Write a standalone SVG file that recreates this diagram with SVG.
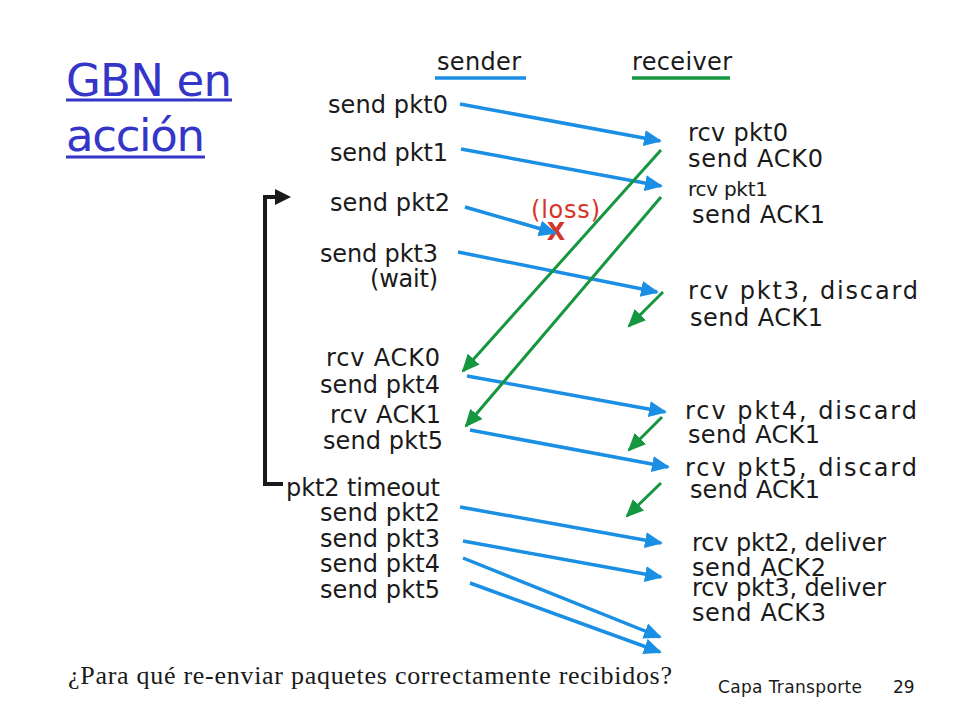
<svg xmlns="http://www.w3.org/2000/svg" width="960" height="720" viewBox="0 0 960 720">
<defs>
<style>
.t{font-family:"DejaVu Sans","Liberation Sans",sans-serif;font-size:24px;fill:#1a1a1a}
.b{stroke:#1a8fe3;stroke-width:3.5;fill:none}
.g{stroke:#15963f;stroke-width:3;fill:none}
.title{font-family:"DejaVu Sans","Liberation Sans",sans-serif;font-size:45px;fill:#3535c8}
</style>
<marker id="ab" markerUnits="userSpaceOnUse" markerWidth="20" markerHeight="20" viewBox="0 0 20 20" refX="16" refY="10" orient="auto">
<path d="M0,2 L18,10 L0,18 Z" fill="#1a8fe3"/>
</marker>
<marker id="ag" markerUnits="userSpaceOnUse" markerWidth="20" markerHeight="20" viewBox="0 0 20 20" refX="16" refY="10" orient="auto">
<path d="M0,2 L18,10 L0,18 Z" fill="#15963f"/>
</marker>
<marker id="ak" markerUnits="userSpaceOnUse" markerWidth="20" markerHeight="20" viewBox="0 0 20 20" refX="4" refY="10" orient="auto">
<path d="M0,2 L16,10 L0,18 Z" fill="#1a1a1a"/>
</marker>
</defs>
<rect width="960" height="720" fill="#ffffff"/>

<g id="title">
<text class="title" x="66" y="96" textLength="166">GBN en</text>
<line x1="66" y1="100" x2="232" y2="100" stroke="#3535c8" stroke-width="3"/>
<text class="title" x="66" y="151" textLength="139">acción</text>
<line x1="66" y1="157" x2="205" y2="157" stroke="#3535c8" stroke-width="3"/>
</g>

<g id="headers">
<text class="t" x="437" y="70" textLength="84">sender</text>
<line x1="435" y1="78" x2="526" y2="78" stroke="#1a8fe3" stroke-width="3.5"/>
<text class="t" x="632" y="70" textLength="100">receiver</text>
<line x1="632" y1="78" x2="730" y2="78" stroke="#15963f" stroke-width="3.5"/>
</g>

<g id="sender-labels">
<text class="t" x="328" y="113" textLength="120">send pkt0</text>
<text class="t" x="330" y="161" textLength="118">send pkt1</text>
<text class="t" x="330" y="211" textLength="120">send pkt2</text>
<text class="t" x="320" y="262" textLength="118">send pkt3</text>
<text class="t" x="370" y="287" textLength="68">(wait)</text>
<text class="t" x="326" y="366" textLength="114">rcv ACK0</text>
<text class="t" x="320" y="393" textLength="120">send pkt4</text>
<text class="t" x="330" y="423" textLength="111">rcv ACK1</text>
<text class="t" x="323" y="449" textLength="120">send pkt5</text>
<text class="t" x="286" y="496" textLength="154">pkt2 timeout</text>
<text class="t" x="320" y="521" textLength="120">send pkt2</text>
<text class="t" x="320" y="547" textLength="120">send pkt3</text>
<text class="t" x="320" y="572" textLength="120">send pkt4</text>
<text class="t" x="320" y="598" textLength="120">send pkt5</text>
</g>

<g id="receiver-labels">
<text class="t" x="688" y="141" textLength="100">rcv pkt0</text>
<text class="t" x="688" y="167" textLength="135">send ACK0</text>
<text class="t" x="688" y="196" textLength="80" style="font-size:20px">rcv pkt1</text>
<text class="t" x="692" y="223" textLength="133">send ACK1</text>
<text class="t" x="688" y="299" textLength="230">rcv pkt3, discard</text>
<text class="t" x="690" y="326" textLength="133">send ACK1</text>
<text class="t" x="685" y="419" textLength="232">rcv pkt4, discard</text>
<text class="t" x="688" y="443" textLength="132">send ACK1</text>
<text class="t" x="685" y="476" textLength="232">rcv pkt5, discard</text>
<text class="t" x="690" y="498" textLength="130">send ACK1</text>
<text class="t" x="692" y="551" textLength="194">rcv pkt2, deliver</text>
<text class="t" x="692" y="576" textLength="134">send ACK2</text>
<text class="t" x="692" y="596" textLength="194">rcv pkt3, deliver</text>
<text class="t" x="692" y="621" textLength="134">send ACK3</text>
</g>

<g id="loss">
<text x="531" y="218" textLength="69" style="font-family:'DejaVu Sans','Liberation Sans',sans-serif;font-size:24px;fill:#d8352a">(loss)</text>
<text x="556" y="240" text-anchor="middle" style="font-family:'DejaVu Sans','Liberation Sans',sans-serif;font-size:24px;font-weight:bold;fill:#d8352a">X</text>
</g>

<g id="timeout-bracket">
<polyline points="283,484 265,484 265,197 279,197" fill="none" stroke="#1a1a1a" stroke-width="4" marker-end="url(#ak)"/>
</g>

<g id="connectors">
<line class="b" x1="460" y1="104" x2="660" y2="141" marker-end="url(#ab)"/>
<line class="b" x1="461" y1="149" x2="661" y2="186" marker-end="url(#ab)"/>
<line class="b" x1="465" y1="207" x2="555" y2="233" marker-end="url(#ab)"/>
<line class="b" x1="458" y1="252" x2="657" y2="292" marker-end="url(#ab)"/>
<line class="b" x1="467" y1="376" x2="665" y2="412" marker-end="url(#ab)"/>
<line class="b" x1="470" y1="430" x2="668" y2="467" marker-end="url(#ab)"/>
<line class="b" x1="460" y1="507" x2="661" y2="543" marker-end="url(#ab)"/>
<line class="b" x1="463" y1="541" x2="661" y2="577" marker-end="url(#ab)"/>
<line class="b" x1="463" y1="558" x2="660" y2="637" marker-end="url(#ab)"/>
<line class="b" x1="470" y1="583" x2="660" y2="652" marker-end="url(#ab)"/>

<line class="g" x1="661" y1="150" x2="463" y2="371" marker-end="url(#ag)"/>
<line class="g" x1="661" y1="197" x2="466" y2="426" marker-end="url(#ag)"/>
<line class="g" x1="663" y1="292" x2="629" y2="326" marker-end="url(#ag)"/>
<line class="g" x1="662" y1="417" x2="629" y2="450" marker-end="url(#ag)"/>
<line class="g" x1="661" y1="483" x2="627" y2="516" marker-end="url(#ag)"/>
</g>

<g id="footer">
<text x="68" y="684" textLength="604" style="font-family:'Liberation Serif','Times New Roman',serif;font-size:26px;fill:#1a1a1a">¿Para qué re-enviar paquetes correctamente recibidos?</text>
<text x="718" y="693" textLength="144" style="font-family:'DejaVu Sans','Liberation Sans',sans-serif;font-size:17px;fill:#1a1a1a">Capa Transporte</text>
<text x="893" y="693" style="font-family:'DejaVu Sans','Liberation Sans',sans-serif;font-size:17px;fill:#1a1a1a">29</text>
</g>
</svg>
